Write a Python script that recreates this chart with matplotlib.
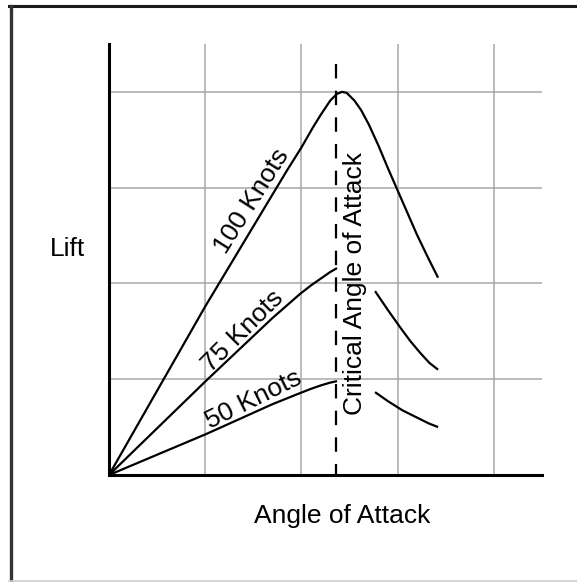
import matplotlib
matplotlib.use("Agg")
import matplotlib.pyplot as plt
from matplotlib.lines import Line2D

plt.rcParams['font.family'] = ['Liberation Sans', 'DejaVu Sans']

# Data (grid units)
x100 = [0, 1.0, 1.7, 1.85, 2.0, 2.12, 2.2, 2.3, 2.37, 2.42, 2.47, 2.55, 2.62, 2.7, 2.8, 2.9, 3.0, 3.2, 3.32, 3.42]
y100 = [0, 1.76, 2.93, 3.18, 3.42, 3.63, 3.76, 3.91, 3.98, 4.0, 3.99, 3.91, 3.81, 3.66, 3.44, 3.2, 2.97, 2.51, 2.26, 2.06]

x75_up = [0, 1.015, 1.7, 1.985, 2.1, 2.2, 2.3, 2.37]
y75_up = [0, 0.99, 1.64, 1.89, 1.98, 2.05, 2.12, 2.16]
x75_down = [2.765, 2.9, 3.02, 3.13, 3.23, 3.33, 3.42]
y75_down = [1.92, 1.72, 1.55, 1.40, 1.28, 1.17, 1.10]

x50_up = [0, 1.015, 1.7, 1.985, 2.1, 2.2, 2.3, 2.37]
y50_up = [0, 0.43, 0.74, 0.855, 0.90, 0.935, 0.965, 0.98]
x50_down = [2.765, 2.9, 3.05, 3.2, 3.32, 3.42]
y50_down = [0.865, 0.77, 0.675, 0.60, 0.54, 0.50]

critical_x = 2.36
critical_top = 4.29
grid_vals = [1, 2, 3, 4]
lim = 4.5

labels = ["100 Knots", "75 Knots", "50 Knots"]
label_pos = [(1.48, 2.86), (1.39, 1.50), (1.50, 0.79)]
label_rot = [57.6, 45.0, 26.3]

W, H = 577, 582
fig = plt.figure(figsize=(W / 100, H / 100), dpi=100)
ax = fig.add_axes([109 / W, 1 - 475 / H, (542 - 109) / W, (475 - 44) / H])
ax.set_xlim(0, lim)
ax.set_ylim(0, lim)

for g in grid_vals:
    ax.plot([g, g], [0, lim], color='#a8a8a8', lw=1.1, zorder=1, solid_capstyle='butt')
    ax.plot([0, lim], [g, g], color='#a8a8a8', lw=1.1, zorder=1, solid_capstyle='butt')

kw = dict(color='black', lw=1.6, zorder=3, solid_joinstyle='round', solid_capstyle='butt')
ax.plot(x100, y100, **kw)
ax.plot(x75_up, y75_up, **kw)
ax.plot(x75_down, y75_down, **kw)
ax.plot(x50_up, y50_up, **kw)
ax.plot(x50_down, y50_down, **kw)

ax.plot([critical_x, critical_x], [critical_top, 0], color='black', lw=1.6,
        dashes=(6.5, 5.5), zorder=3, dash_capstyle='butt')

for lab, (px, py), rot in zip(labels, label_pos, label_rot):
    ax.text(px, py, lab, rotation=rot, rotation_mode='anchor', ha='center', va='center',
            fontsize=19, zorder=4)

ax.text(critical_x + 0.2, 2.0, "Critical Angle of Attack", rotation=90, ha='center', va='center',
        fontsize=19, zorder=4)

for s in ['top', 'right']:
    ax.spines[s].set_visible(False)
for s in ['left', 'bottom']:
    ax.spines[s].set_linewidth(2.2)
    ax.spines[s].set_color('black')
ax.set_xticks([])
ax.set_yticks([])
ax.patch.set_alpha(0)

fig.text(68 / W, 1 - 249 / H, "Lift", ha='center', va='center', fontsize=19)
fig.text(342 / W, 1 - 516 / H, "Angle of Attack", ha='center', va='center', fontsize=19)

# outer frame
fig.add_artist(Line2D([9 / W, 1], [1 - 6 / H, 1 - 6 / H], transform=fig.transFigure, color='#1a1a1a', lw=2.2))
fig.add_artist(Line2D([11 / W, 11 / W], [0, 1 - 6 / H], transform=fig.transFigure, color='#333333', lw=2.4))
fig.add_artist(Line2D([9 / W, 1], [1 - 580.5 / H, 1 - 580.5 / H], transform=fig.transFigure, color='#cfcfcf', lw=1.2))

fig.savefig("out.png", dpi=100)
